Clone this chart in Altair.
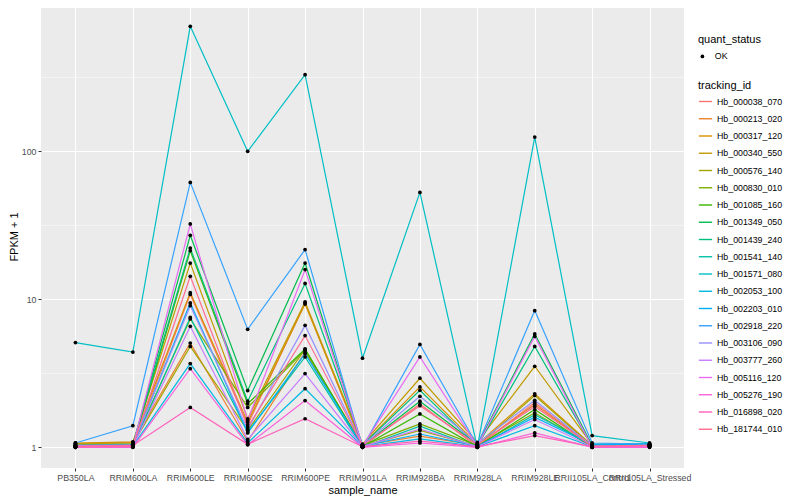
import altair as alt
import pandas as pd

samples = ["PB350LA", "RRIM600LA", "RRIM600LE", "RRIM600SE", "RRIM600PE", "RRIM901LA",
           "RRIM928BA", "RRIM928LA", "RRIM928LE", "RRII105LA_Control", "RRII105LA_Stressed"]

tracking_ids = ["Hb_000038_070", "Hb_000213_020", "Hb_000317_120", "Hb_000340_550", "Hb_000576_140",
                "Hb_000830_010", "Hb_001085_160", "Hb_001349_050", "Hb_001439_240", "Hb_001541_140",
                "Hb_001571_080", "Hb_002053_100", "Hb_002203_010", "Hb_002918_220", "Hb_003106_090",
                "Hb_003777_260", "Hb_005116_120", "Hb_005276_190", "Hb_016898_020", "Hb_181744_010"]

colors = ["#F8766D", "#EA8331", "#D89000", "#C09B00", "#A3A500", "#7CAE00", "#39B600", "#00BB4E",
          "#00BF7D", "#00C1A3", "#00BFC4", "#00BAE0", "#00B0F6", "#35A2FF", "#9590FF", "#C77CFF",
          "#E76BF3", "#FA62DB", "#FF62BC", "#FF6C91"]

# FPKM + 1 per sample, in tracking_ids order
PB350LA = [1.02, 1.05, 1.07, 1.06, 1.04, 1.03, 1.01, 1.02, 1.03, 1.00, 5.10, 1.01, 1.02, 1.07, 1.03, 1.00, 1.01, 1.00, 1.02, 1.01]
RRIM600LA = [1.03, 1.08, 1.09, 1.07, 1.05, 1.04, 1.02, 1.03, 1.05, 1.01, 4.40, 1.02, 1.03, 1.40, 1.04, 1.01, 1.02, 1.00, 1.03, 1.02]
RRIM600LE = [10.8, 5.07, 11.1, 17.6, 4.81, 7.37, 21.3, 27.1, 22.2, 7.55, 700, 3.68, 9.46, 61.7, 9.06, 6.57, 32.3, 3.40, 1.86, 14.3]
RRIM600SE = [1.42, 1.10, 1.48, 1.56, 1.30, 1.86, 1.97, 2.42, 2.05, 1.27, 100, 1.07, 1.25, 6.27, 1.32, 1.13, 1.52, 1.04, 1.05, 1.37]
RRIM600PE = [9.46, 4.40, 9.30, 9.60, 4.60, 4.52, 4.62, 17.6, 12.8, 4.08, 330, 2.49, 4.30, 21.7, 6.67, 3.15, 15.9, 2.07, 1.56, 5.69]
RRIM901LA = [1.01, 1.03, 1.04, 1.05, 1.02, 1.03, 1.01, 1.02, 1.04, 1.00, 4.00, 1.01, 1.02, 1.00, 1.03, 1.01, 1.02, 1.00, 1.01, 1.03]
RRIM928BA = [1.96, 1.19, 2.56, 2.93, 1.30, 1.44, 1.68, 2.05, 2.43, 1.39, 52.8, 1.14, 1.23, 4.96, 2.21, 1.33, 4.08, 1.07, 1.10, 1.91]
RRIM928LA = [1.01, 1.03, 1.05, 1.08, 1.02, 1.03, 1.01, 1.04, 1.02, 1.00, 1.00, 1.01, 1.02, 1.03, 1.06, 1.01, 1.02, 1.00, 1.01, 1.04]
RRIM928LE = [2.01, 1.95, 2.30, 3.53, 2.24, 1.71, 1.80, 5.84, 4.81, 1.66, 125, 1.40, 1.60, 8.39, 2.08, 1.54, 5.62, 1.25, 1.20, 1.89]
RRII105LA_Control = [1.01, 1.02, 1.03, 1.04, 1.02, 1.01, 1.00, 1.03, 1.02, 1.05, 1.20, 1.01, 1.04, 1.07, 1.02, 1.01, 1.00, 1.00, 1.01, 1.02]
RRII105LA_Stressed = [1.02, 1.03, 1.04, 1.05, 1.03, 1.02, 1.01, 1.04, 1.03, 1.06, 1.07, 1.02, 1.05, 1.05, 1.03, 1.02, 1.01, 1.00, 1.02, 1.03]

values_by_sample = [PB350LA, RRIM600LA, RRIM600LE, RRIM600SE, RRIM600PE, RRIM901LA,
                    RRIM928BA, RRIM928LA, RRIM928LE, RRII105LA_Control, RRII105LA_Stressed]

minor_breaks = [3.1623, 31.623, 316.23]
major_breaks = [1, 10, 100]

rows = []
for s, vals in zip(samples, values_by_sample):
    for t, v in zip(tracking_ids, vals):
        rows.append({"sample_name": s, "tracking_id": t, "fpkm": v, "quant_status": "OK"})
df = pd.DataFrame(rows)
minor_df = pd.DataFrame({"y": minor_breaks})

FONT = "Liberation Sans"
ydomain = [0.725, 975]

x_enc = alt.X("sample_name:N", sort=samples,
              scale=alt.Scale(type="point", padding=0.6),
              axis=alt.Axis(title="sample_name", labelAngle=0, labelOverlap=False, labelBound=False,
                            labelColor="#4D4D4D", labelFontSize=8.8, tickColor="#333333", tickSize=3,
                            labelPadding=2, domain=False, grid=True, gridColor="white", gridWidth=1.07,
                            titleFontSize=11, titleFontWeight="normal", titleColor="black", titlePadding=3))
y_scale = alt.Scale(type="log", domain=ydomain, nice=False)
y_enc = alt.Y("fpkm:Q", scale=y_scale,
              axis=alt.Axis(title="FPKM + 1", values=major_breaks, format="d",
                            labelColor="#4D4D4D", labelFontSize=8.8, tickColor="#333333", tickSize=3,
                            labelPadding=2, domain=False, grid=True, gridColor="white", gridWidth=1.07,
                            titleFontSize=11, titleFontWeight="normal", titleColor="black", titlePadding=2))

minor = alt.Chart(minor_df).mark_rule(color="white", strokeWidth=0.53).encode(
    y=alt.Y("y:Q", scale=y_scale)
)

lines = alt.Chart(df).mark_line(strokeWidth=1.2).encode(
    x=x_enc, y=y_enc,
    color=alt.Color("tracking_id:N", scale=alt.Scale(domain=tracking_ids, range=colors),
                    legend=alt.Legend(title="tracking_id", orient="none", legendX=657, legendY=75,
                                      symbolType="stroke", symbolSize=177, symbolStrokeWidth=1.4,
                                      rowPadding=4.25, labelOffset=4, padding=0, titlePadding=3,
                                      labelFontSize=8.8, labelColor="black", titleFontSize=11,
                                      titleFontWeight="normal", titleColor="black", columns=1)),
    detail="tracking_id:N",
)

points = alt.Chart(df).mark_point(filled=True, color="black", size=14, opacity=1).encode(
    x=alt.X("sample_name:N", sort=samples, scale=alt.Scale(type="point", padding=0.6)),
    y=alt.Y("fpkm:Q", scale=y_scale),
    shape=alt.Shape("quant_status:N", scale=alt.Scale(range=["circle"]),
                    legend=alt.Legend(title="quant_status", orient="none", legendX=657, legendY=29,
                                      symbolSize=14, symbolFillColor="black", symbolStrokeWidth=0,
                                      labelOffset=8, padding=0, titlePadding=7, labelFontSize=8.8,
                                      labelColor="black", titleFontSize=11, titleFontWeight="normal",
                                      titleColor="black")),
)

chart = alt.layer(minor, lines, points).properties(
    width=643, height=463,
    padding={"left": 0, "top": -3, "right": 0, "bottom": 0},
).configure(font=FONT).configure_view(fill="#EBEBEB", stroke=None)

chart.save("out.html", embed_options={"renderer": "svg", "actions": False})
